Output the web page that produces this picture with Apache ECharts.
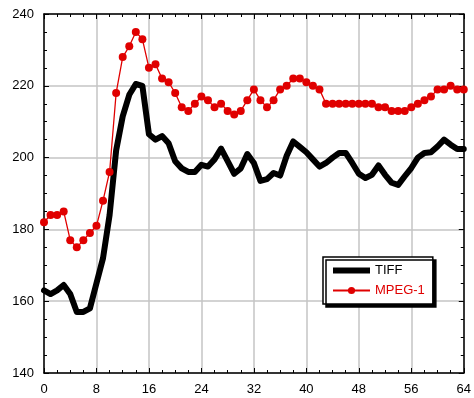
<!DOCTYPE html>
<html>
<head>
<meta charset="utf-8">
<script src="https://cdn.jsdelivr.net/npm/echarts@6/dist/echarts.min.js"></script>
<style>
  html, body { margin: 0; padding: 0; background: #fff; }
  #chart { width: 474px; height: 398px; }
</style>
</head>
<body>
<div id="chart"></div>
<script>
// Frame index 0..64
const frames = Array.from({ length: 65 }, (_, i) => i);

// TIFF values per frame
const tiffValues = [
  163, 162, 163, 164.5, 162, 157, 157, 158, 165, 172,
  184, 202, 211.5, 217.5, 220.5, 220, 206.5, 205, 206, 204,
  199, 197, 196, 196, 198, 197.5, 199.5, 202.5, 199, 195.5,
  197, 201, 198.5, 193.5, 194, 195.7, 195, 200.5, 204.5, 203,
  201.5, 199.5, 197.5, 198.5, 200, 201.3, 201.3, 198.5, 195.5, 194.3,
  195.2, 197.8, 195.2, 193, 192.4, 194.8, 197.1, 200, 201.3, 201.5,
  203.1, 205, 203.6, 202.4, 202.4
];

// MPEG-1 values per frame
const mpegValues = [
  182, 184, 184, 185, 177, 175, 177, 179, 181, 188,
  196, 218, 228, 231, 235, 233, 225, 226, 222, 221,
  218, 214, 213, 215, 217, 216, 214, 215, 213, 212,
  213, 216, 219, 216, 214, 216, 219, 220, 222, 222,
  221, 220, 219, 215, 215, 215, 215, 215, 215, 215,
  215, 214, 214, 213, 213, 213, 214, 215, 216, 217,
  219, 219, 220, 219, 219
];

const xTicks = [0, 8, 16, 24, 32, 40, 48, 56, 64];
const yTicks = [140, 160, 180, 200, 220, 240];

const RED = '#e00000';
const FONT = 'Liberation Sans, Arial, sans-serif';

const pair = (ys) => frames.map((f, i) => [f, ys[i]]);

const frameAxis = (extra) => Object.assign({
  type: 'value',
  min: xTicks[0],
  max: xTicks[xTicks.length - 1],
  interval: 8,
  axisLine: { show: true, onZero: false, lineStyle: { color: '#000', width: 1.5 } },
  axisTick: { show: true, inside: true, length: 5, lineStyle: { color: '#000', width: 1 } },
  minorTick: { show: true, splitNumber: 4, length: 3, lineStyle: { color: '#000', width: 1 } },
  splitLine: { show: false }
}, extra);

const valueAxis = (extra) => Object.assign({
  type: 'value',
  min: yTicks[0],
  max: yTicks[yTicks.length - 1],
  interval: 20,
  axisLine: { show: true, onZero: false, lineStyle: { color: '#000', width: 1.5 } },
  axisTick: { show: true, inside: true, length: 5, lineStyle: { color: '#000', width: 1 } },
  minorTick: { show: true, splitNumber: 4, length: 3, lineStyle: { color: '#000', width: 1 } },
  splitLine: { show: false }
}, extra);

const chart = echarts.init(document.getElementById('chart'), null, { renderer: 'canvas' });

chart.setOption({
  animation: false,
  backgroundColor: '#fff',
  grid: { left: 44, right: 7, top: 14, bottom: 25, containLabel: false },
  xAxis: [
    frameAxis({
      position: 'bottom',
      axisLabel: { show: true, color: '#000', fontFamily: FONT, fontSize: 13, margin: 10 },
      splitLine: { show: true, lineStyle: { color: '#c4c4c4', width: 1.5 } }
    }),
    frameAxis({ position: 'top', axisLabel: { show: false } })
  ],
  yAxis: [
    valueAxis({
      position: 'left',
      axisLabel: { show: true, color: '#000', fontFamily: FONT, fontSize: 13, margin: 10 },
      splitLine: { show: true, lineStyle: { color: '#c4c4c4', width: 1.5 } }
    }),
    valueAxis({ position: 'right', axisLabel: { show: false } })
  ],
  legend: {
    orient: 'vertical',
    left: 323,
    top: 257,
    padding: [7, 8, 7, 7],
    itemGap: 7,
    itemWidth: 37,
    itemHeight: 9,
    backgroundColor: '#fff',
    borderColor: '#000',
    borderWidth: 1.5,
    borderRadius: 0,
    shadowColor: '#000',
    shadowBlur: 0,
    shadowOffsetX: 3,
    shadowOffsetY: 3,
    textStyle: { fontFamily: FONT, fontSize: 13, color: '#000' },
    data: [
      {
        name: 'TIFF',
        itemStyle: { opacity: 0 },
        lineStyle: { width: 6, color: '#000', cap: 'butt' },
        textStyle: { color: '#000' }
      },
      { name: 'MPEG-1', textStyle: { color: RED } }
    ]
  },
  series: [
    {
      name: 'TIFF',
      type: 'line',
      data: pair(tiffValues),
      symbol: 'none',
      lineStyle: { color: '#000', width: 6, cap: 'round', join: 'round' },
      itemStyle: { color: '#000' },
      z: 3
    },
    {
      name: 'MPEG-1',
      type: 'line',
      data: pair(mpegValues),
      symbol: 'circle',
      symbolSize: 8,
      lineStyle: { color: RED, width: 1.3 },
      itemStyle: { color: RED },
      z: 4
    }
  ]
});
</script>
</body>
</html>
